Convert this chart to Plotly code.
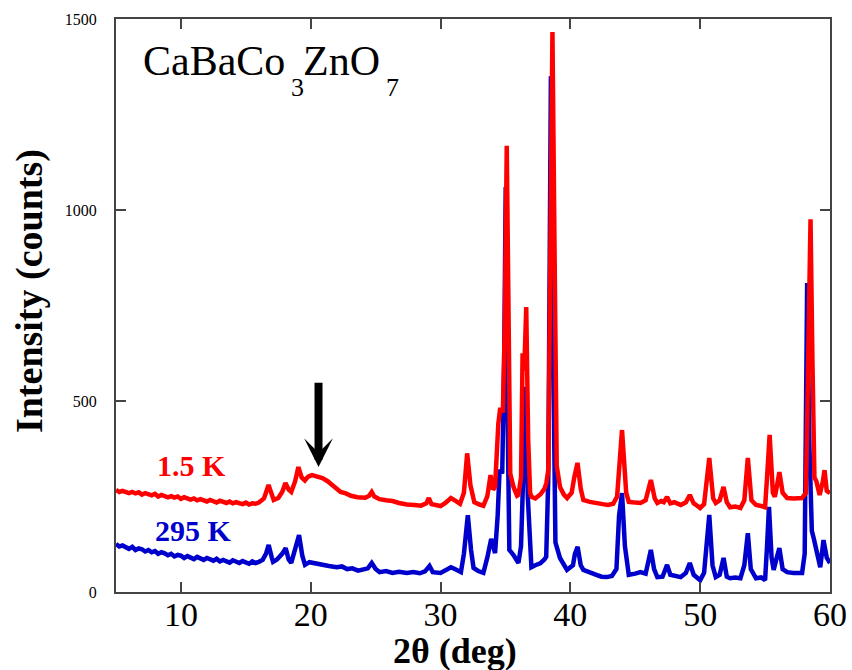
import plotly.graph_objects as go

# ---- data ----
two_theta_15K = [5.0, 5.25, 5.5, 5.75, 6.0, 6.25, 6.5, 6.75, 7.0, 7.25, 7.5, 7.75, 8.0, 8.25, 8.5, 8.75,
                 9.0, 9.25, 9.5, 9.75, 10.0, 10.25, 10.5, 10.75, 11.0, 11.25, 11.5, 11.75, 12.0, 12.25,
                 12.5, 12.75, 13.0, 13.25, 13.5, 13.75, 14.0, 14.25, 14.5, 14.75, 15.0, 15.25, 15.5,
                 15.75, 16.0,
                 16.4, 16.75, 17.0, 17.15, 17.5, 17.8, 18.05,
                 18.3, 18.5, 18.8, 19.05, 19.3, 19.55, 19.8, 20.1, 20.5, 20.9, 21.3, 21.7, 22.0, 22.3,
                 22.7, 23.1, 23.6, 24.2, 24.5, 24.7, 24.9, 25.3, 25.8, 26.3, 26.8, 27.4, 28.0, 28.5,
                 28.9, 29.1, 29.3, 29.6, 30.0, 30.4, 30.8, 31.1, 31.5, 31.8, 32.05, 32.3, 32.6, 33.0,
                 33.3, 33.6, 33.85, 34.05, 34.2, 34.45, 34.6, 34.8, 34.95, 35.1, 35.25, 35.37, 35.62,
                 35.9, 36.0, 36.2, 36.32, 36.45, 36.6, 36.75, 36.9, 37.0, 37.3, 37.7, 38.0, 38.15, 38.3,
                 38.45, 38.62, 38.78, 38.95, 39.2, 39.5, 39.75, 40.1, 40.3, 40.55, 40.8, 41.0, 41.5,
                 42.0, 42.5, 42.9, 43.3, 43.6, 43.98, 44.3, 44.5, 45.0, 45.4, 45.8, 46.2, 46.5, 46.7,
                 47.0, 47.2, 47.45, 47.7, 48.0, 48.5, 48.9, 49.2, 49.5, 50.0, 50.3, 50.7, 51.0, 51.2,
                 51.5, 51.8, 52.05, 52.3, 52.7, 53.1, 53.4, 53.67, 53.95, 54.3, 54.7, 55.0, 55.15,
                 55.35, 55.6, 55.75, 55.9, 56.1, 56.35, 56.7, 57.2, 57.85, 58.15, 58.3, 58.5, 58.65,
                 58.8, 58.95, 59.2, 59.45, 59.58, 59.75, 60.0]
counts_15K = [267, 262, 265, 263, 259, 262, 258, 261, 255, 259, 256, 253, 257, 250, 254, 252,
              248, 251, 247, 250, 244, 248, 246, 242, 245, 240, 243, 241, 237, 241,
              238, 234, 239, 236, 233, 237, 232, 235, 233, 230, 234, 229, 232,
              231, 234,
              245, 280, 250, 241, 246, 262, 285,
              268, 262, 290, 327, 300, 292, 302, 306, 302, 298, 290, 280, 272, 262,
              258, 252, 248, 247, 252, 262, 250, 243, 240, 238, 233, 229, 228, 226,
              232, 246, 230, 227, 225, 234, 246, 240, 231, 260, 363, 280, 235, 229,
              226, 250, 306, 268, 275, 440, 482, 470, 700, 1168, 600, 310, 275,
              252, 254, 300, 625, 580, 746, 400, 260, 249, 245, 256, 270, 285, 320,
              900, 1466, 900, 330, 275, 255, 246, 260, 300, 338, 270, 241, 236,
              232, 230, 228, 231, 250, 424, 260, 236, 234, 233, 240, 293, 245, 233,
              238, 235, 249, 232, 235, 228, 235, 254, 232, 220, 230, 351, 245, 233,
              240, 275, 235, 222, 224, 220, 240, 351, 240, 228, 225, 222, 300,
              411, 260, 249, 275, 314, 260, 246, 245, 246, 260, 600, 976, 600,
              300, 290, 254, 290, 319, 265, 259]

two_theta_295K = [5.0, 5.25, 5.5, 5.75, 6.0, 6.25, 6.5, 6.75, 7.0, 7.25, 7.5, 7.75, 8.0, 8.25, 8.5,
                  8.75, 9.0, 9.25, 9.5, 9.75, 10.0, 10.25, 10.5, 10.75, 11.0, 11.25, 11.5, 11.75, 12.0,
                  12.25, 12.5, 12.75, 13.0, 13.25, 13.5, 13.75, 14.0, 14.25, 14.5, 14.75, 15.0, 15.25,
                  15.5, 15.75, 16.0,
                  16.3, 16.55, 16.76, 17.0, 17.1, 17.4, 17.8, 18.07, 18.3, 18.5, 18.8, 19.1, 19.35,
                  19.56, 19.9, 20.15, 20.6, 20.95, 21.4, 22.0, 22.4, 22.8, 23.2, 23.65, 24.0, 24.4,
                  24.7, 25.0, 25.3, 25.8, 26.3, 26.8, 27.4, 27.9, 28.4, 28.8, 29.15, 29.4, 30.0, 30.4,
                  30.8, 31.1, 31.57, 31.8, 32.1, 32.35, 32.54, 32.9, 33.3, 33.6, 33.9, 34.2, 34.4,
                  34.55, 34.75, 34.9, 35.02, 35.15, 35.3, 35.62, 36.0, 36.2, 36.4, 36.58, 36.72, 36.9,
                  37.0, 37.3, 37.68, 38.0, 38.14, 38.3, 38.5, 38.65, 38.85, 39.2, 39.5, 39.74, 40.2,
                  40.35, 40.56, 40.8, 41.0, 41.5, 42.0, 42.4, 42.8, 43.2, 43.55, 43.75, 43.98, 44.2,
                  44.5, 45.0, 45.4, 45.8, 46.2, 46.45, 46.7, 47.1, 47.45, 47.7, 48.0, 48.5, 48.9, 49.2,
                  49.5, 50.0, 50.3, 50.55, 50.7, 50.95, 51.2, 51.5, 51.8, 52.05, 52.3, 52.7, 53.1,
                  53.4, 53.67, 53.9, 54.3, 54.7, 55.0, 55.15, 55.3, 55.5, 55.66, 55.9, 56.1, 56.35,
                  56.7, 57.2, 57.85, 58.05, 58.24, 58.4, 58.6, 58.75, 59.0, 59.25, 59.5, 59.75, 60.0]
counts_295K = [126, 119, 122, 117, 113, 118, 110, 114, 112, 106, 110, 104, 107, 100, 104,
               101, 96, 100, 93, 97, 95, 89, 94, 90, 86, 92, 88, 84, 89,
               86, 82, 87, 80, 84, 82, 77, 83, 79, 76, 81, 77, 74,
               80, 76, 79,
               84, 100, 123, 90, 79, 85, 100, 115, 85, 76, 110, 149, 95,
               71, 78, 76, 72, 71, 68, 65, 67, 60, 62, 56, 58, 62,
               76, 60, 52, 55, 50, 53, 50, 52, 49, 54, 68, 52, 50, 56,
               65, 60, 52, 100, 201, 110, 63, 55, 50, 90, 139, 102, 200,
               320, 310, 600, 1060, 500, 110, 97, 76, 120, 380, 537, 250, 80,
               65, 70, 75, 85, 92, 300, 1350, 700, 130, 89, 70, 58, 70,
               100, 118, 70, 58, 50, 45, 40, 39, 42, 60, 200, 259, 120,
               45, 48, 52, 48, 110, 60, 39, 40, 71, 45, 42, 39, 50, 76,
               45, 31, 50, 160, 202, 70, 39, 45, 89, 40, 36, 38, 36,
               70, 154, 60, 36, 38, 31, 120, 223, 90, 58, 90, 115, 60,
               52, 50, 50, 100, 809, 400, 160, 140, 100, 65, 136, 90, 76]

series_labels = ["1.5 K", "295 K"]
title_parts = ["CaBaCo", "3", "ZnO", "7"]
x_title = "2θ (deg)"
y_title = "Intensity (counts)"
x_ticks = [10, 20, 30, 40, 50, 60]
y_ticks = [0, 500, 1000, 1500]

# arrow marking the broad hump (data coordinates: tail -> tip)
arrow_x = 20.6
arrow_tip = 327
arrow_tail = 552

RED = "#ff0000"
BLUE = "#0000cc"
SERIF = "Liberation Serif, Times New Roman, serif"

fig = go.Figure()
fig.add_trace(go.Scatter(x=two_theta_295K, y=counts_295K, mode="lines",
                         line=dict(color=BLUE, width=4.5), name=series_labels[1]))
fig.add_trace(go.Scatter(x=two_theta_15K, y=counts_15K, mode="lines",
                         line=dict(color=RED, width=4.5), name=series_labels[0]))

axis_common = dict(showgrid=False, zeroline=False, showline=True, linecolor="#444",
                   linewidth=2, mirror="ticks", ticks="inside", ticklen=10,
                   tickwidth=1.5, tickcolor="#444", automargin=False)

fig.update_xaxes(range=[5, 60], tickvals=x_ticks, ticktext=[str(v) for v in x_ticks],
                 tickfont=dict(family=SERIF, size=34, color="black"),
                 ticklabelstandoff=-9, **axis_common)
fig.update_yaxes(range=[0, 1500], tickvals=y_ticks, ticktext=[str(v) for v in y_ticks],
                 tickfont=dict(family=SERIF, size=16, color="black"),
                 ticklabelstandoff=14, **axis_common)

# title with lowered subscripts, built from separate pieces
title_specs = [(title_parts[0], 0.036, 0.926, 42),
               (title_parts[1], 0.2437, 0.880, 26),
               (title_parts[2], 0.2605, 0.926, 42),
               (title_parts[3], 0.3768, 0.880, 26)]
annotations = []
for txt, xp, yp, sz in title_specs:
    annotations.append(dict(text=txt, xref="paper", yref="paper", x=xp, y=yp,
                            xanchor="left", yanchor="middle", showarrow=False, borderpad=0,
                            font=dict(family=SERIF, size=sz, color="black")))

annotations += [
    dict(text="<b>%s</b>" % series_labels[0], xref="paper", yref="paper", x=0.0546, y=0.2216,
         xanchor="left", yanchor="middle", showarrow=False,
         font=dict(family=SERIF, size=30, color=RED)),
    dict(text="<b>%s</b>" % series_labels[1], xref="paper", yref="paper", x=0.0518, y=0.108,
         xanchor="left", yanchor="middle", showarrow=False,
         font=dict(family=SERIF, size=30, color=BLUE)),
    dict(text="<b>%s</b>" % x_title, xref="paper", yref="paper", x=0.475, y=-0.103,
         xanchor="center", yanchor="middle", showarrow=False, borderpad=0,
         font=dict(family=SERIF, size=36, color="black")),
    dict(text="<b>%s</b>" % y_title, xref="paper", yref="paper", x=-0.122, y=0.525,
         xanchor="center", yanchor="middle", showarrow=False, textangle=-90,
         font=dict(family=SERIF, size=38, color="black")),
    dict(text="", x=arrow_x, y=arrow_tip, ax=arrow_x, ay=arrow_tail, xref="x", yref="y",
         axref="x", ayref="y", showarrow=True, arrowhead=3, arrowwidth=8, arrowsize=0.6,
         arrowcolor="black", standoff=0, startstandoff=0),
]

fig.update_layout(width=852, height=670, paper_bgcolor="white", plot_bgcolor="white",
                  margin=dict(l=116, r=22, t=19, b=78), showlegend=False,
                  annotations=annotations)

fig.write_html("out.html", config={"displayModeBar": False},
               post_script="document.body.style.margin='0';document.body.style.overflow='hidden';")
